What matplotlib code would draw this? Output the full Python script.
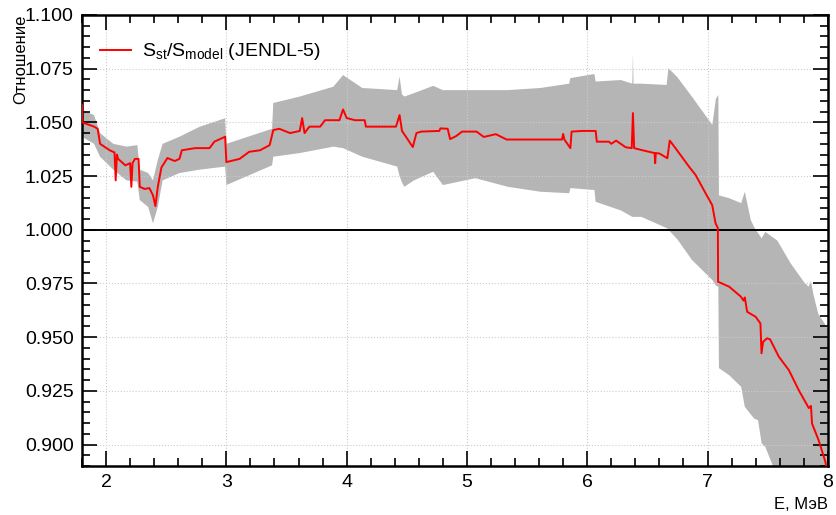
import matplotlib
matplotlib.use("Agg")
import matplotlib.pyplot as plt
from matplotlib.ticker import MultipleLocator

plt.rcParams['font.family'] = ['Liberation Sans', 'DejaVu Sans']
plt.rcParams['mathtext.fontset'] = 'custom'
plt.rcParams['mathtext.rm'] = 'Liberation Sans'
plt.rcParams['mathtext.it'] = 'Liberation Sans'

# ---------------- central ratio ----------------
energy = [1.800, 1.802, 1.90, 1.93, 1.95, 2.03, 2.07, 2.08, 2.09, 2.10,
          2.16, 2.20, 2.21, 2.22, 2.24, 2.27, 2.28, 2.32, 2.36, 2.39,
          2.41, 2.43, 2.46, 2.51, 2.57, 2.61, 2.63, 2.74, 2.86, 2.90,
          2.99, 3.00, 3.11, 3.19, 3.28, 3.36, 3.39, 3.44, 3.53, 3.61,
          3.63, 3.65, 3.69, 3.78, 3.82, 3.94, 3.97, 4.00, 4.07, 4.15,
          4.16, 4.41, 4.44, 4.46, 4.50, 4.55, 4.58, 4.62, 4.77, 4.78,
          4.84, 4.86, 4.91, 4.96, 5.08, 5.14, 5.24, 5.33, 5.79, 5.80,
          5.81, 5.86, 5.87, 5.96, 6.07, 6.08, 6.18, 6.20, 6.24, 6.32,
          6.37, 6.38, 6.39, 6.46, 6.56, 6.565, 6.57, 6.60, 6.666, 6.686,
          6.735, 6.846, 6.901, 6.984, 7.039, 7.067, 7.086, 7.088, 7.18, 7.275,
          7.30, 7.31, 7.33, 7.40, 7.44, 7.449, 7.462, 7.495, 7.52, 7.593,
          7.676, 7.759, 7.842, 7.86, 7.869, 7.924, 7.98, 8.00]
ratio = [1.058, 1.050, 1.048, 1.047, 1.040, 1.037, 1.036, 1.023, 1.035, 1.033,
         1.030, 1.031, 1.020, 1.031, 1.033, 1.033, 1.020, 1.019, 1.0194, 1.016,
         1.011, 1.020, 1.029, 1.0334, 1.032, 1.033, 1.037, 1.038, 1.038, 1.041,
         1.0433, 1.0315, 1.033, 1.0363, 1.037, 1.0394, 1.0464, 1.047, 1.045, 1.046,
         1.052, 1.045, 1.048, 1.048, 1.051, 1.051, 1.056, 1.052, 1.051, 1.051,
         1.048, 1.048, 1.0534, 1.046, 1.0427, 1.0385, 1.045, 1.0457, 1.046, 1.0472,
         1.047, 1.0422, 1.0436, 1.0457, 1.0457, 1.0432, 1.0445, 1.042, 1.042, 1.0446,
         1.042, 1.038, 1.0457, 1.046, 1.046, 1.041, 1.041, 1.040, 1.0415, 1.0384,
         1.038, 1.0543, 1.038, 1.037, 1.0357, 1.031, 1.0357, 1.0355, 1.0333, 1.0415,
         1.0379, 1.0294, 1.0255, 1.017, 1.0115, 1.003, 1.0008, 0.9758, 0.9735, 0.969,
         0.967, 0.9685, 0.9618, 0.9595, 0.9564, 0.9425, 0.9478, 0.9495, 0.949, 0.9409,
         0.9347, 0.9253, 0.917, 0.918, 0.9098, 0.902, 0.892, 0.885]

# ---------------- uncertainty band ----------------
band_e = [1.80, 1.90, 1.95, 2.06, 2.17, 2.26, 2.28, 2.35, 2.39, 2.43,
          2.47, 2.61, 2.78, 2.99, 3.00, 3.38, 3.39, 3.61, 3.89, 3.97,
          4.13, 4.42, 4.44, 4.46, 4.48, 4.56, 4.72, 4.80, 5.07, 5.34,
          5.61, 5.85, 5.86, 6.06, 6.07, 6.28, 6.375, 6.38, 6.385, 6.45,
          6.66, 6.675, 6.75, 6.87, 7.04, 7.07, 7.09, 7.095, 7.18, 7.28,
          7.31, 7.36, 7.39, 7.42, 7.45, 7.48, 7.58, 7.69, 7.80, 7.84,
          7.86, 7.88, 7.92, 8.00]
band_hi = [1.0557, 1.0534, 1.045, 1.040, 1.0387, 1.0394, 1.028, 1.0264, 1.023, 1.0325,
           1.040, 1.0433, 1.048, 1.0519, 1.040, 1.047, 1.059, 1.062, 1.0666, 1.072,
           1.066, 1.065, 1.0713, 1.063, 1.062, 1.0636, 1.067, 1.065, 1.065, 1.065,
           1.066, 1.068, 1.0706, 1.0725, 1.069, 1.0697, 1.068, 1.082, 1.068, 1.068,
           1.0674, 1.0752, 1.071, 1.062, 1.0488, 1.061, 1.0627, 1.016, 1.0147, 1.0124,
           1.0177, 1.0045, 1.001, 0.9985, 0.996, 0.999, 0.995, 0.9845, 0.9758, 0.9735,
           0.976, 0.970, 0.961, 0.954]
band_lo = [1.0433, 1.040, 1.034, 1.028, 1.023, 1.0224, 1.0138, 1.0106, 1.003, 1.0106,
           1.023, 1.0264, 1.028, 1.0294, 1.0208, 1.030, 1.034, 1.0357, 1.0387, 1.038,
           1.034, 1.0294, 1.025, 1.022, 1.020, 1.023, 1.027, 1.0208, 1.024, 1.020,
           1.0177, 1.017, 1.0194, 1.0185, 1.013, 1.009, 1.006, 1.006, 1.006, 1.006,
           1.0008, 1.000, 0.9955, 0.986, 0.9766, 0.974, 0.9735, 0.9356, 0.9323, 0.9269,
           0.9176, 0.914, 0.912, 0.9114, 0.9006, 0.899, 0.885, 0.870, 0.860, 0.855,
           0.852, 0.850, 0.845, 0.840]

fig = plt.figure(figsize=(8.37, 5.15), dpi=100)
ax = fig.add_axes([0.098, 0.095, 0.891, 0.876])

ax.fill_between(band_e, band_lo, band_hi, color='#b5b5b5', lw=0, zorder=1)
ax.plot(energy, ratio, color='red', lw=1.4, zorder=3,
        label=r'$\mathregular{S_{st}/S_{model}}$ (JENDL-5)')
ax.axhline(1.0, color='black', lw=1.4, zorder=2)

ax.set_xlim(1.8, 8.0)
ax.set_ylim(0.89, 1.10)
ax.xaxis.set_major_locator(MultipleLocator(1))
ax.xaxis.set_minor_locator(MultipleLocator(0.2))
ax.yaxis.set_major_locator(MultipleLocator(0.025))
ax.yaxis.set_minor_locator(MultipleLocator(0.005))
ax.yaxis.set_major_formatter(plt.FormatStrFormatter('%.3f'))

ax.tick_params(which='both', direction='in', top=True, right=True,
               labelsize=14, width=1.2)
ax.tick_params(which='major', length=11, pad=6)
ax.tick_params(which='minor', length=5.5)
for s in ax.spines.values():
    s.set_linewidth(1.8)

ax.grid(True, which='major', color='#cccccc', ls=':', lw=0.8, zorder=0)

ax.set_xlabel('E, МэВ', loc='right', fontsize=12)
ax.set_ylabel('Отношение', loc='top', fontsize=12)
ax.yaxis.set_label_coords(-0.072, 1.0)

ax.legend(loc='upper left', frameon=False, fontsize=14,
          bbox_to_anchor=(0.0, 0.98), handlelength=1.6, handletextpad=0.6)

fig.savefig('out.png', dpi=100)
